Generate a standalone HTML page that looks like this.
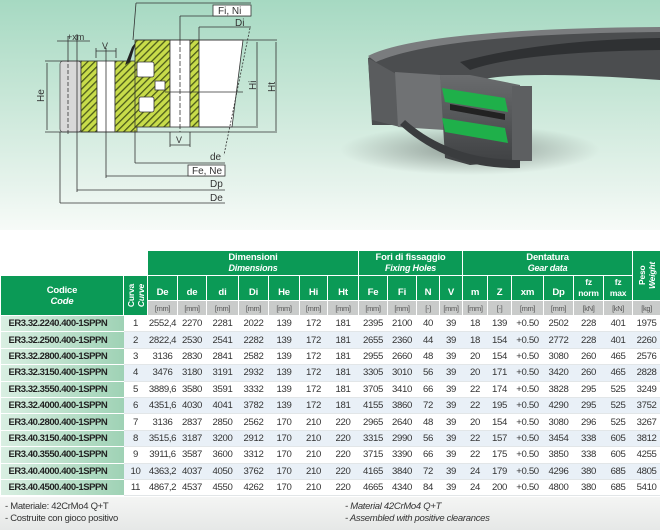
<!DOCTYPE html>
<html><head><meta charset="utf-8">
<style>
*{margin:0;padding:0;box-sizing:border-box}
body{width:660px;height:530px;overflow:hidden;background:#fff;font-family:"Liberation Sans",sans-serif;position:relative}
#top{position:absolute;left:0;top:0;width:660px;height:230px;background:linear-gradient(180deg,#a6d9c2 0%,#c6e6d6 40%,#e6f3ec 80%,#f7fbf8 100%)}
#bot{position:absolute;left:0;top:497px;width:660px;height:33px;background:linear-gradient(180deg,#f4f5f4,#e6e8e7)}
table{position:absolute;left:0;top:250px;width:660px;border-collapse:collapse;table-layout:fixed;font-size:9.6px;letter-spacing:-0.35px;color:#333}
td{border:1px solid #fff;text-align:center;padding:0;white-space:nowrap;overflow:hidden}
.g{background:#0b9a56;color:#fff;font-weight:bold;line-height:11px;letter-spacing:-0.2px}
.u{background:#c9cbca;color:#555;font-size:7.5px;height:15px}
tr.d td{height:16.4px;border-color:#e2e6e8;border-left:none;border-right:none}
tr.d td.c{background:linear-gradient(90deg,#d9efe2,#9fd2b5);color:#222;font-weight:bold;text-align:left;padding-left:8px;font-size:9.5px;letter-spacing:-0.45px;border-color:#fff}
tr.e td{background:#e9f0f7}
tr.e td.c{background:linear-gradient(90deg,#d9efe2,#9fd2b5)}
.vt{writing-mode:vertical-rl;transform:rotate(180deg);font-size:8.5px;line-height:10px}
.n{position:absolute;font-size:9.5px;letter-spacing:-0.3px;color:#333}
</style></head><body>
<div id="top"></div>
<svg style="position:absolute;left:0;top:0" width="660" height="230">
<defs>
<pattern id="h" width="5" height="5" patternUnits="userSpaceOnUse" patternTransform="rotate(45)">
<rect width="5" height="5" fill="#c8dc4a"/><rect width="1.3" height="5" fill="#4a5a1a"/></pattern>
<linearGradient id="rg" x1="0" y1="0" x2="0" y2="1"><stop offset="0" stop-color="#6a6c6e"/><stop offset="1" stop-color="#3e4042"/></linearGradient>
<radialGradient id="sh" cx="0.5" cy="0.5" r="0.5"><stop offset="0" stop-color="#000" stop-opacity="0.35"/><stop offset="1" stop-color="#000" stop-opacity="0"/></radialGradient>
</defs>
<g stroke="#333" stroke-width="0.8" fill="none">
<rect x="60" y="61" width="21" height="71" fill="#d8d8d8" stroke="#555" rx="3"/>
<line x1="68" y1="58" x2="68" y2="136" stroke-dasharray="4,2"/>
<line x1="77" y1="34" x2="77" y2="192" />
<rect x="81" y="61" width="16" height="71" fill="url(#h)"/>
<rect x="97" y="61" width="18" height="71" fill="#fff"/>
<rect x="115" y="61" width="22" height="71" fill="url(#h)"/>
<rect x="135" y="40" width="35" height="87" fill="url(#h)"/>
<rect x="137" y="62" width="17" height="15" fill="#fff" rx="2"/>
<rect x="139" y="97" width="15" height="15" fill="#fff" rx="2"/>
<rect x="155" y="81" width="10" height="9" fill="#fff"/>
<rect x="170" y="40" width="20" height="87" fill="#fff"/>
<rect x="190" y="40" width="9" height="87" fill="url(#h)"/>
<path d="M199 40 L243 40 L232 127 L199 127Z" fill="#fff"/>
<line x1="165" y1="92" x2="243" y2="92"/>
<line x1="135" y1="40" x2="277" y2="40"/>
<line x1="45" y1="132" x2="277" y2="132"/>
<line x1="199" y1="127" x2="258" y2="127"/>
<line x1="45" y1="61" x2="82" y2="61"/>
<line x1="47" y1="63" x2="47" y2="130"/>
<line x1="257" y1="42" x2="257" y2="126"/>
<line x1="276" y1="42" x2="276" y2="131"/>
<line x1="180" y1="40" x2="180" y2="132" stroke-dasharray="5,2"/>
<line x1="106" y1="48" x2="106" y2="178"/>
<line x1="96" y1="48" x2="96" y2="58"/><line x1="116" y1="48" x2="116" y2="58"/><line x1="96" y1="51" x2="116" y2="51"/>
<line x1="170" y1="132" x2="170" y2="147"/><line x1="190" y1="132" x2="190" y2="147"/><line x1="170" y1="145" x2="190" y2="145"/>
<line x1="57" y1="41" x2="90" y2="41"/><line x1="68" y1="36" x2="68" y2="58"/>
<line x1="133" y1="40" x2="136" y2="3"/><line x1="136" y1="3" x2="251" y2="3"/>
<line x1="180" y1="16" x2="180" y2="40"/><line x1="180" y1="16" x2="251" y2="16"/>
<line x1="199" y1="27" x2="199" y2="40"/><line x1="199" y1="27" x2="251" y2="27"/>
<line x1="250" y1="28" x2="224" y2="155" stroke-dasharray="2,1.5"/>
<line x1="135" y1="130" x2="135" y2="163"/><line x1="135" y1="163" x2="225" y2="163"/>
<line x1="106" y1="176" x2="225" y2="176"/>
<line x1="77" y1="190" x2="225" y2="190"/>
<line x1="60" y1="132" x2="60" y2="203"/><line x1="60" y1="203" x2="225" y2="203"/>
<rect x="213" y="5" width="38" height="11" fill="#fff" stroke="#333"/>
<rect x="188" y="165" width="37" height="11" fill="#fff" stroke="#333"/>
</g>
<path d="M125 65 L132 47 L136 42 L130 62Z" fill="#222"/>
<g font-family="Liberation Sans" font-size="10" fill="#333">
<text x="218" y="14">Fi, Ni</text><text x="235" y="26">Di</text>
<text x="210" y="160">de</text><text x="192" y="174">Fe, Ne</text>
<text x="210" y="187">Dp</text><text x="210" y="201">De</text>
<text x="67" y="40" font-size="9">+xm</text><text x="102" y="49" font-size="9">V</text><text x="176" y="143" font-size="9">V</text>
<text transform="translate(44,102) rotate(-90)">He</text>
<text transform="translate(256,90) rotate(-90)">Hi</text>
<text transform="translate(275,92) rotate(-90)">Ht</text>
</g>
<!-- bearing -->
<ellipse cx="470" cy="150" rx="130" ry="25" fill="url(#sh)"/>
<path d="M368 58 Q420 30 660 28 L660 80 Q520 70 480 80 L440 80 L420 125 L372 125Z" fill="#4b4d4f"/>
<path d="M460 62 Q540 40 660 38 L660 50 Q520 52 470 70Z" fill="#2f3133"/>
<path d="M368 56 Q420 29 660 27 L660 32 Q440 34 376 62Z" fill="#7a7c7e"/>
<path d="M368 58 L372 120 L400 127 L398 75Z" fill="#5a5c5e"/>
<path d="M395 72 L440 75 L445 130 L398 127Z" fill="#707274"/>
<path d="M440 75 L470 75 L520 85 L525 160 L470 165 L445 158Z" fill="url(#rg)"/>
<rect x="512" y="86" width="20" height="75" fill="#5d5f61"/>
<path d="M442 88 L505 98 L508 112 L445 102Z" fill="#1fb04a"/>
<path d="M442 118 L505 128 L508 143 L445 132Z" fill="#1fb04a"/>
<path d="M450 104 L505 114 L505 120 L450 110Z" fill="#222"/>
<path d="M400 125 Q450 170 520 168 L520 160 Q450 160 405 120Z" fill="#3a3c3e"/>
</svg>
<div id="bot"></div>
<table>
<colgroup>
<col style="width:123px"><col style="width:24px"><col style="width:30px"><col style="width:29px"><col style="width:32px"><col style="width:30px"><col style="width:31px"><col style="width:28px"><col style="width:31px"><col style="width:29px"><col style="width:29px"><col style="width:23px"><col style="width:23px"><col style="width:25px"><col style="width:24px"><col style="width:32px"><col style="width:30px"><col style="width:30px"><col style="width:29px"><col style="width:28px">
</colgroup>
<tr style="height:25px"><td colspan="2" style="border:none"></td><td colspan="7" class="g" style="font-size:9.5px">Dimensioni<br><i style="font-size:9px">Dimensions</i></td><td colspan="4" class="g" style="font-size:9.5px">Fori di fissaggio<br><i style="font-size:9px">Fixing Holes</i></td><td colspan="6" class="g" style="font-size:9.5px">Dentatura<br><i style="font-size:9px">Gear data</i></td><td rowspan="2" class="g"><div class="vt" style="margin:auto">Peso<br><i>Weight</i></div></td></tr>
<tr style="height:25px" class="g"><td rowspan="2" class="g" style="font-size:9.5px">Codice<br><i>Code</i></td><td rowspan="2" class="g"><div class="vt" style="margin:auto">Curva<br><i>Curve</i></div></td>
<td class="g" style="padding-top:8px">De</td><td class="g" style="padding-top:8px">de</td><td class="g" style="padding-top:8px">di</td><td class="g" style="padding-top:8px">Di</td><td class="g" style="padding-top:8px">He</td><td class="g" style="padding-top:8px">Hi</td><td class="g" style="padding-top:8px">Ht</td><td class="g" style="padding-top:8px">Fe</td><td class="g" style="padding-top:8px">Fi</td><td class="g" style="padding-top:8px">N</td><td class="g" style="padding-top:8px">V</td><td class="g" style="padding-top:8px">m</td><td class="g" style="padding-top:8px">Z</td><td class="g" style="padding-top:8px">xm</td><td class="g" style="padding-top:8px">Dp</td><td class="g" style="font-size:8.5px">fz<br>norm</td><td class="g" style="font-size:8.5px">fz<br>max</td></tr>
<tr><td class="u">[mm]</td><td class="u">[mm]</td><td class="u">[mm]</td><td class="u">[mm]</td><td class="u">[mm]</td><td class="u">[mm]</td><td class="u">[mm]</td><td class="u">[mm]</td><td class="u">[mm]</td><td class="u">[-]</td><td class="u">[mm]</td><td class="u">[mm]</td><td class="u">[-]</td><td class="u">[mm]</td><td class="u">[mm]</td><td class="u">[kN]</td><td class="u">[kN]</td><td class="u">[kg]</td></tr>
<tr class="d"><td class="c">ER3.32.2240.400-1SPPN</td><td>1</td><td>2552,4</td><td>2270</td><td>2281</td><td>2022</td><td>139</td><td>172</td><td>181</td><td>2395</td><td>2100</td><td>40</td><td>39</td><td>18</td><td>139</td><td>+0.50</td><td>2502</td><td>228</td><td>401</td><td>1975</td></tr>
<tr class="d e"><td class="c">ER3.32.2500.400-1SPPN</td><td>2</td><td>2822,4</td><td>2530</td><td>2541</td><td>2282</td><td>139</td><td>172</td><td>181</td><td>2655</td><td>2360</td><td>44</td><td>39</td><td>18</td><td>154</td><td>+0.50</td><td>2772</td><td>228</td><td>401</td><td>2260</td></tr>
<tr class="d"><td class="c">ER3.32.2800.400-1SPPN</td><td>3</td><td>3136</td><td>2830</td><td>2841</td><td>2582</td><td>139</td><td>172</td><td>181</td><td>2955</td><td>2660</td><td>48</td><td>39</td><td>20</td><td>154</td><td>+0.50</td><td>3080</td><td>260</td><td>465</td><td>2576</td></tr>
<tr class="d e"><td class="c">ER3.32.3150.400-1SPPN</td><td>4</td><td>3476</td><td>3180</td><td>3191</td><td>2932</td><td>139</td><td>172</td><td>181</td><td>3305</td><td>3010</td><td>56</td><td>39</td><td>20</td><td>171</td><td>+0.50</td><td>3420</td><td>260</td><td>465</td><td>2828</td></tr>
<tr class="d"><td class="c">ER3.32.3550.400-1SPPN</td><td>5</td><td>3889,6</td><td>3580</td><td>3591</td><td>3332</td><td>139</td><td>172</td><td>181</td><td>3705</td><td>3410</td><td>66</td><td>39</td><td>22</td><td>174</td><td>+0.50</td><td>3828</td><td>295</td><td>525</td><td>3249</td></tr>
<tr class="d e"><td class="c">ER3.32.4000.400-1SPPN</td><td>6</td><td>4351,6</td><td>4030</td><td>4041</td><td>3782</td><td>139</td><td>172</td><td>181</td><td>4155</td><td>3860</td><td>72</td><td>39</td><td>22</td><td>195</td><td>+0.50</td><td>4290</td><td>295</td><td>525</td><td>3752</td></tr>
<tr class="d"><td class="c">ER3.40.2800.400-1SPPN</td><td>7</td><td>3136</td><td>2837</td><td>2850</td><td>2562</td><td>170</td><td>210</td><td>220</td><td>2965</td><td>2640</td><td>48</td><td>39</td><td>20</td><td>154</td><td>+0.50</td><td>3080</td><td>296</td><td>525</td><td>3267</td></tr>
<tr class="d e"><td class="c">ER3.40.3150.400-1SPPN</td><td>8</td><td>3515,6</td><td>3187</td><td>3200</td><td>2912</td><td>170</td><td>210</td><td>220</td><td>3315</td><td>2990</td><td>56</td><td>39</td><td>22</td><td>157</td><td>+0.50</td><td>3454</td><td>338</td><td>605</td><td>3812</td></tr>
<tr class="d"><td class="c">ER3.40.3550.400-1SPPN</td><td>9</td><td>3911,6</td><td>3587</td><td>3600</td><td>3312</td><td>170</td><td>210</td><td>220</td><td>3715</td><td>3390</td><td>66</td><td>39</td><td>22</td><td>175</td><td>+0.50</td><td>3850</td><td>338</td><td>605</td><td>4255</td></tr>
<tr class="d e"><td class="c">ER3.40.4000.400-1SPPN</td><td>10</td><td>4363,2</td><td>4037</td><td>4050</td><td>3762</td><td>170</td><td>210</td><td>220</td><td>4165</td><td>3840</td><td>72</td><td>39</td><td>24</td><td>179</td><td>+0.50</td><td>4296</td><td>380</td><td>685</td><td>4805</td></tr>
<tr class="d"><td class="c">ER3.40.4500.400-1SPPN</td><td>11</td><td>4867,2</td><td>4537</td><td>4550</td><td>4262</td><td>170</td><td>210</td><td>220</td><td>4665</td><td>4340</td><td>84</td><td>39</td><td>24</td><td>200</td><td>+0.50</td><td>4800</td><td>380</td><td>685</td><td>5410</td></tr>
</table>
<div class="n" style="left:5px;top:501px">- Materiale: 42CrMo4 Q+T</div>
<div class="n" style="left:5px;top:513px">- Costruite con gioco positivo</div>
<div class="n" style="left:345px;top:501px"><i>- Material 42CrMo4 Q+T</i></div>
<div class="n" style="left:345px;top:513px"><i>- Assembled with positive clearances</i></div>
</body></html>
